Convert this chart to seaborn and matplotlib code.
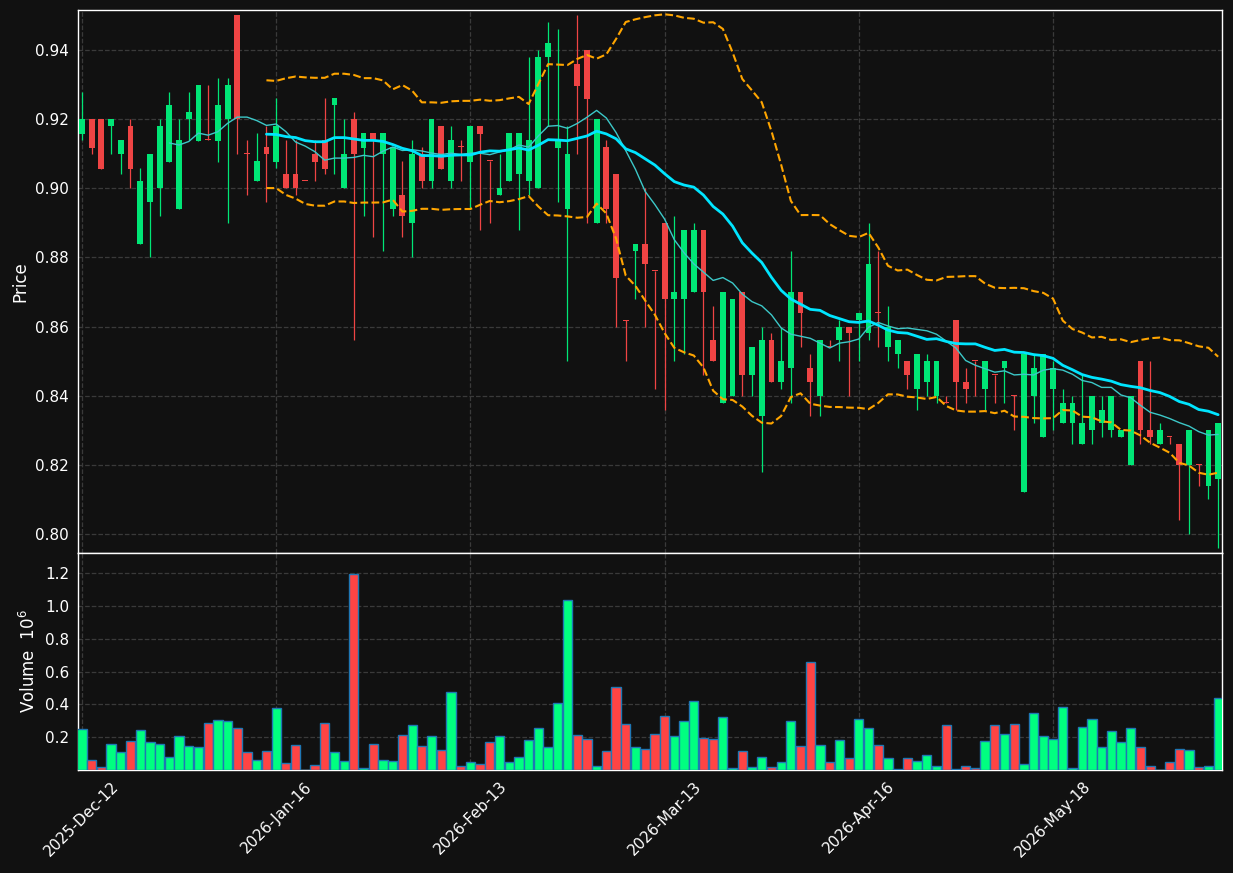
import numpy as np
import pandas as pd
import matplotlib
matplotlib.use("Agg")
import matplotlib.pyplot as plt
import seaborn as sns

# price data (OHLC), one entry per trading session
opens = [0.9158, 0.920, 0.920, 0.9179, 0.910, 0.918, 0.8838, 0.896, 0.900, 0.9077,
         0.894, 0.920, 0.9138, 0.9142, 0.9138, 0.920, 0.950, 0.9101, 0.902, 0.912,
         0.9077, 0.9042, 0.9042, 0.9021, 0.910, 0.914, 0.924, 0.900, 0.920, 0.9118,
         0.916, 0.910, 0.894, 0.898, 0.890, 0.910, 0.902, 0.918, 0.902, 0.9121,
         0.9077, 0.918, 0.9079, 0.898, 0.902, 0.904, 0.902, 0.900, 0.938, 0.9118,
         0.894, 0.936, 0.940, 0.890, 0.912, 0.904, 0.8618, 0.882, 0.8838, 0.8761,
         0.890, 0.868, 0.868, 0.870, 0.888, 0.856, 0.838, 0.840, 0.870, 0.846,
         0.834, 0.856, 0.844, 0.848, 0.870, 0.848, 0.840, 0.8541, 0.856, 0.860,
         0.862, 0.858, 0.8639, 0.854, 0.852, 0.850, 0.842, 0.844, 0.840, 0.8381,
         0.862, 0.844, 0.8501, 0.842, 0.8461, 0.848, 0.8401, 0.812, 0.840, 0.828,
         0.842, 0.832, 0.832, 0.826, 0.830, 0.832, 0.830, 0.828, 0.820, 0.850,
         0.830, 0.826, 0.8281, 0.826, 0.820, 0.8201, 0.814, 0.816]
highs = [0.928, 0.920, 0.920, 0.920, 0.914, 0.920, 0.906, 0.910, 0.920, 0.928,
         0.920, 0.928, 0.930, 0.930, 0.932, 0.932, 0.950, 0.914, 0.916, 0.918,
         0.926, 0.914, 0.914, 0.9022, 0.914, 0.926, 0.926, 0.920, 0.922, 0.916,
         0.916, 0.916, 0.912, 0.908, 0.914, 0.912, 0.920, 0.918, 0.918, 0.914,
         0.918, 0.918, 0.9079, 0.910, 0.916, 0.916, 0.938, 0.940, 0.948, 0.946,
         0.918, 0.950, 0.940, 0.920, 0.914, 0.904, 0.8618, 0.8838, 0.900, 0.8761,
         0.890, 0.892, 0.888, 0.890, 0.888, 0.866, 0.870, 0.868, 0.870, 0.854,
         0.860, 0.858, 0.860, 0.882, 0.870, 0.852, 0.856, 0.856, 0.862, 0.860,
         0.864, 0.890, 0.882, 0.866, 0.856, 0.850, 0.852, 0.852, 0.850, 0.840,
         0.862, 0.848, 0.8501, 0.850, 0.8461, 0.850, 0.8401, 0.852, 0.852, 0.852,
         0.850, 0.842, 0.840, 0.846, 0.840, 0.840, 0.840, 0.830, 0.840, 0.850,
         0.850, 0.832, 0.8281, 0.826, 0.830, 0.8201, 0.830, 0.832]
lows = [0.914, 0.910, 0.9057, 0.910, 0.904, 0.900, 0.8838, 0.880, 0.892, 0.9077,
        0.894, 0.914, 0.9138, 0.914, 0.9077, 0.890, 0.910, 0.898, 0.902, 0.896,
        0.9058, 0.900, 0.898, 0.902, 0.902, 0.904, 0.904, 0.900, 0.856, 0.892,
        0.886, 0.882, 0.892, 0.886, 0.880, 0.900, 0.900, 0.9057, 0.900, 0.902,
        0.894, 0.888, 0.890, 0.898, 0.902, 0.888, 0.898, 0.900, 0.918, 0.896,
        0.850, 0.910, 0.890, 0.890, 0.890, 0.860, 0.850, 0.868, 0.860, 0.842,
        0.836, 0.850, 0.852, 0.870, 0.846, 0.850, 0.838, 0.840, 0.840, 0.840,
        0.818, 0.844, 0.842, 0.838, 0.854, 0.834, 0.834, 0.854, 0.850, 0.840,
        0.850, 0.856, 0.854, 0.850, 0.848, 0.842, 0.836, 0.840, 0.838, 0.838,
        0.836, 0.838, 0.840, 0.836, 0.838, 0.838, 0.830, 0.812, 0.832, 0.828,
        0.830, 0.832, 0.826, 0.826, 0.826, 0.828, 0.828, 0.828, 0.820, 0.826,
        0.826, 0.826, 0.826, 0.804, 0.800, 0.814, 0.810, 0.796]
closes = [0.920, 0.9118, 0.9057, 0.920, 0.914, 0.9057, 0.902, 0.910, 0.918, 0.924,
          0.914, 0.922, 0.930, 0.914, 0.924, 0.930, 0.920, 0.910, 0.908, 0.910,
          0.918, 0.900, 0.900, 0.902, 0.9077, 0.9057, 0.926, 0.910, 0.910, 0.916,
          0.914, 0.916, 0.912, 0.892, 0.910, 0.902, 0.920, 0.9057, 0.914, 0.912,
          0.918, 0.9158, 0.9078, 0.900, 0.916, 0.916, 0.914, 0.938, 0.942, 0.914,
          0.910, 0.9297, 0.9257, 0.920, 0.894, 0.874, 0.8617, 0.8838, 0.878, 0.876,
          0.868, 0.870, 0.888, 0.888, 0.870, 0.850, 0.870, 0.868, 0.846, 0.854,
          0.856, 0.844, 0.850, 0.870, 0.864, 0.844, 0.856, 0.854, 0.860, 0.858,
          0.864, 0.878, 0.8638, 0.860, 0.856, 0.846, 0.852, 0.850, 0.850, 0.838,
          0.844, 0.842, 0.850, 0.850, 0.846, 0.850, 0.840, 0.852, 0.848, 0.852,
          0.848, 0.838, 0.838, 0.832, 0.840, 0.836, 0.840, 0.830, 0.840, 0.830,
          0.828, 0.830, 0.828, 0.820, 0.830, 0.820, 0.830, 0.832]
# volume in millions
volumes = [0.248, 0.059, 0.016, 0.156, 0.108, 0.175, 0.242, 0.169, 0.156, 0.077,
           0.205, 0.144, 0.138, 0.284, 0.303, 0.296, 0.254, 0.108, 0.059, 0.114,
           0.376, 0.041, 0.150, 0.001, 0.028, 0.284, 0.108, 0.053, 1.198, 0.010,
           0.156, 0.059, 0.053, 0.211, 0.272, 0.144, 0.205, 0.120, 0.473, 0.022,
           0.047, 0.035, 0.169, 0.205, 0.047, 0.077, 0.181, 0.254, 0.138, 0.406,
           1.040, 0.211, 0.187, 0.022, 0.114, 0.504, 0.278, 0.138, 0.126, 0.217,
           0.327, 0.205, 0.296, 0.418, 0.193, 0.187, 0.321, 0.010, 0.114, 0.016,
           0.077, 0.016, 0.047, 0.296, 0.144, 0.656, 0.150, 0.047, 0.181, 0.071,
           0.309, 0.254, 0.150, 0.071, 0.004, 0.071, 0.053, 0.089, 0.022, 0.272,
           0.004, 0.022, 0.010, 0.175, 0.272, 0.217, 0.278, 0.035, 0.345, 0.205,
           0.187, 0.382, 0.010, 0.260, 0.309, 0.138, 0.236, 0.169, 0.254, 0.138,
           0.022, 0.001, 0.047, 0.126, 0.120, 0.016, 0.022, 0.437]
tick_labels = ["2025-Dec-12", "2026-Jan-16", "2026-Feb-13",
               "2026-Mar-13", "2026-Apr-16", "2026-May-18"]
tick_pos = [0, 20, 40, 60, 80, 100]

df = pd.DataFrame({"open": opens, "high": highs, "low": lows,
                   "close": closes, "volume": volumes})
df["x"] = np.arange(len(df))
df["ma10"] = df["close"].rolling(10).mean()
df["ma20"] = df["close"].rolling(20).mean()
sd = df["close"].rolling(20).std(ddof=0)
df["bb_up"] = df["ma20"] + 2 * sd
df["bb_lo"] = df["ma20"] - 2 * sd
up = df["close"] >= df["open"]

bg = "#111111"
sns.set_theme(style="darkgrid", rc={
    "figure.facecolor": bg, "axes.facecolor": bg, "axes.edgecolor": "white",
    "axes.labelcolor": "white", "xtick.color": "white", "ytick.color": "white",
    "text.color": "white", "grid.color": "#3a3a3a", "grid.linestyle": "--",
    "grid.linewidth": 0.9, "axes.linewidth": 1.0,
})
plt.rcParams["font.family"] = ["DejaVu Sans"]

fig = plt.figure(figsize=(12.33, 8.73), dpi=100)
ax = fig.add_axes([0.0633, 0.3666, 0.9278, 0.6220])
axv = fig.add_axes([0.0633, 0.1180, 0.9278, 0.2486], sharex=ax)

green = "#00e676"
red = "#ef4444"
cols = np.where(up, green, red)

# candles
ax.vlines(df["x"], df["low"], df["high"], colors=cols, linewidth=0.9, zorder=2)
body_lo = np.minimum(df["open"], df["close"])
body_h = np.maximum(np.abs(df["close"] - df["open"]), 0.0003)
ax.bar(df["x"], body_h, bottom=body_lo, width=0.6, color=cols, linewidth=0, zorder=3)

# moving averages & bands
sns.lineplot(data=df, x="x", y="ma10", ax=ax, color="#3cc8c8", linewidth=1.0, zorder=4)
sns.lineplot(data=df, x="x", y="ma20", ax=ax, color="#00e5ff", linewidth=2.0, zorder=4)
sns.lineplot(data=df, x="x", y="bb_up", ax=ax, color="#ffa500", linewidth=1.5,
             linestyle="--", zorder=4)
sns.lineplot(data=df, x="x", y="bb_lo", ax=ax, color="#ffa500", linewidth=1.5,
             linestyle="--", zorder=4)

ax.set_ylim(0.7945, 0.9516)
ax.set_yticks(np.arange(0.80, 0.945, 0.02))
ax.yaxis.set_major_formatter(plt.FormatStrFormatter("%.2f"))
ax.set_ylabel("Price")
ax.set_xlabel("")
ax.tick_params(axis="x", labelbottom=False, length=0)
ax.tick_params(axis="y", length=3, width=1)

# volume
vcols = np.where(up, "#00ff80", "#ff4444")
axv.bar(df["x"], df["volume"], width=0.95, color=vcols, edgecolor="#1f77b4",
        linewidth=1.0, zorder=3)
axv.set_ylim(0, 1.324)
axv.set_yticks([0.2, 0.4, 0.6, 0.8, 1.0, 1.2])
axv.yaxis.set_major_formatter(plt.FormatStrFormatter("%.1f"))
axv.set_ylabel("Volume  $10^6$")
axv.tick_params(axis="both", length=3, width=1)

axv.set_xlim(-0.4, 117.4)
axv.set_xticks(tick_pos)
axv.set_xticklabels(tick_labels, rotation=45, ha="center")

for a in (ax, axv):
    a.grid(True, color="#3a3a3a", linestyle="--", linewidth=0.9)
    for s in a.spines.values():
        s.set_color("white")

fig.savefig("out.png", dpi=100, facecolor=bg)
